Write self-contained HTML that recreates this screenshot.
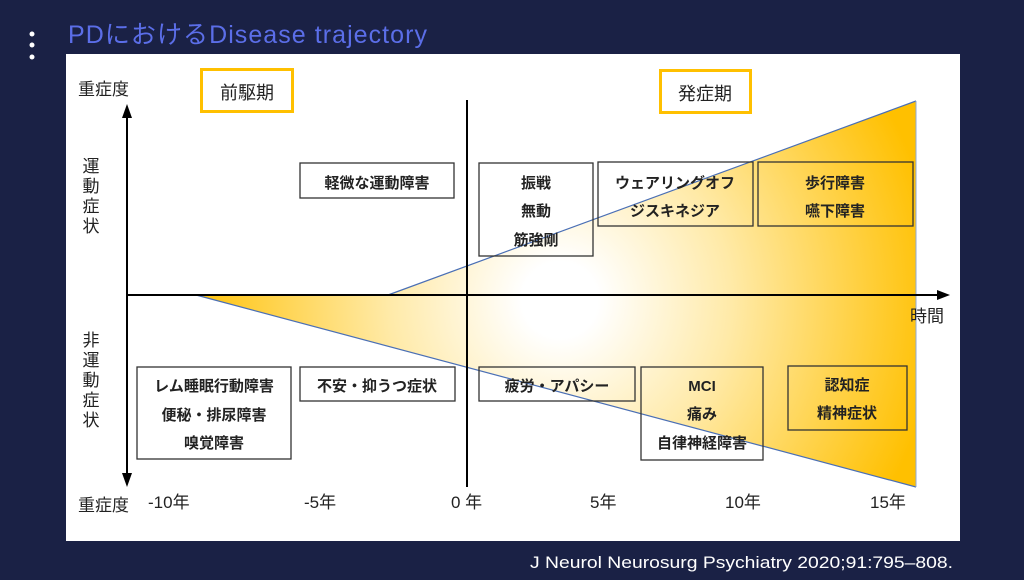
<!DOCTYPE html>
<html><head><meta charset="utf-8"><style>
body{margin:0;width:1024px;height:575px;background:#1a2145;overflow:hidden;font-family:"Liberation Sans","Noto Sans CJK JP",sans-serif}
</style></head><body>
<svg width="1024" height="575" viewBox="0 0 1024 575" xmlns="http://www.w3.org/2000/svg" font-family="Liberation Sans, Noto Sans CJK JP, sans-serif">
<defs>
<radialGradient id="g" gradientUnits="userSpaceOnUse" cx="560" cy="300" r="380">
<stop offset="0.1" stop-color="#ffffff"/>
<stop offset="0.45" stop-color="#ffeaa8"/>
<stop offset="1" stop-color="#ffc000"/>
</radialGradient>
</defs>
<circle cx="32" cy="34" r="2.5" fill="#fff"/><circle cx="32" cy="45" r="2.5" fill="#fff"/><circle cx="32" cy="57" r="2.5" fill="#fff"/>
<text x="68" y="43" font-size="25" fill="#5b6ee8" textLength="359" lengthAdjust="spacing">PDにおけるDisease  trajectory</text>
<rect x="66" y="54" width="894" height="487" fill="#fff"/>
<polygon points="196,295 916,487 916,101 388,295" fill="url(#g)"/>
<line x1="196" y1="295" x2="916" y2="487" stroke="#4a6fb5" stroke-width="1.2"/>
<line x1="388" y1="295" x2="916" y2="101" stroke="#4a6fb5" stroke-width="1.2"/>
<line x1="916" y1="101" x2="916" y2="487" stroke="#8fa9d6" stroke-width="1"/>
<line x1="127" y1="116" x2="127" y2="478" stroke="#000" stroke-width="2"/>
<polygon points="127,104 122,118 132,118" fill="#000"/>
<polygon points="127,487 122,473 132,473" fill="#000"/>
<line x1="127" y1="295" x2="940" y2="295" stroke="#000" stroke-width="2"/>
<polygon points="950,295 937,290 937,300" fill="#000"/>
<line x1="467" y1="100" x2="467" y2="487" stroke="#000" stroke-width="2"/>
<g font-size="17" fill="#222">
<text x="78" y="95">重症度</text>
<text x="78" y="511">重症度</text>
<text x="910" y="322">時間</text>
<text x="148" y="508">-10年</text>
<text x="304" y="508">-5年</text>
<text x="451" y="508">0 年</text>
<text x="590" y="508">5年</text>
<text x="725" y="508">10年</text>
<text x="870" y="508">15年</text>
</g>
<g font-size="17" fill="#222" text-anchor="middle">
<text x="91" y="172">運</text><text x="91" y="192">動</text><text x="91" y="212">症</text><text x="91" y="232">状</text>
<text x="91" y="346">非</text><text x="91" y="366">運</text><text x="91" y="386">動</text><text x="91" y="406">症</text><text x="91" y="426">状</text>
</g>
<rect x="201.5" y="69.5" width="91" height="42" fill="#fff" stroke="#ffc000" stroke-width="3"/>
<text x="247" y="99" font-size="18" text-anchor="middle" fill="#222">前駆期</text>
<rect x="660.5" y="70.5" width="90" height="42" fill="#fff" stroke="#ffc000" stroke-width="3"/>
<text x="705" y="100" font-size="18" text-anchor="middle" fill="#222">発症期</text>
<g fill="none" stroke="#333" stroke-width="1.3">
<rect x="300" y="163" width="154" height="35" fill="#fff"/>
<rect x="479" y="163" width="114" height="93"/>
<rect x="598" y="162" width="155" height="64"/>
<rect x="758" y="162" width="155" height="64"/>
<rect x="137" y="367" width="154" height="92" fill="#fff"/>
<rect x="300" y="367" width="155" height="34" fill="#fff"/>
<rect x="479" y="367" width="156" height="34"/>
<rect x="641" y="367" width="122" height="93"/>
<rect x="788" y="366" width="119" height="64"/>
</g>
<g font-size="15" font-weight="bold" fill="#222" text-anchor="middle">
<text x="377" y="188">軽微な運動障害</text>
<text x="536" y="188">振戦</text><text x="536" y="216">無動</text><text x="536" y="245">筋強剛</text>
<text x="675" y="188">ウェアリングオフ</text><text x="675" y="216">ジスキネジア</text>
<text x="835" y="188">歩行障害</text><text x="835" y="216">嚥下障害</text>
<text x="214" y="391">レム睡眠行動障害</text><text x="214" y="420">便秘・排尿障害</text><text x="214" y="448">嗅覚障害</text>
<text x="377" y="391">不安・抑うつ症状</text>
<text x="557" y="391">疲労・アパシー</text>
<text x="702" y="391">MCI</text><text x="702" y="419">痛み</text><text x="702" y="448">自律神経障害</text>
<text x="847" y="390">認知症</text><text x="847" y="418">精神症状</text>
</g>
<text x="953" y="568" font-size="17" fill="#fff" text-anchor="end" textLength="423" lengthAdjust="spacingAndGlyphs">J Neurol Neurosurg Psychiatry 2020;91:795–808.</text>
</svg>
</body></html>
